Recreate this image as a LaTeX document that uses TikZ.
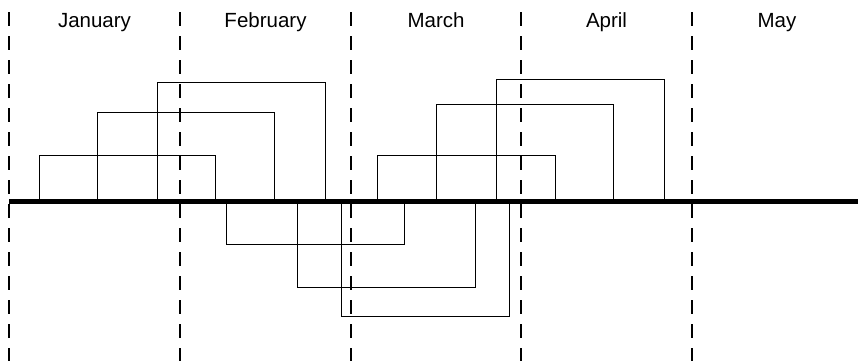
\documentclass[tikz,border=0pt]{standalone}
\usepackage{fontspec}
\setmainfont{Liberation Sans}
\begin{document}
\begin{tikzpicture}[x=1pt,y=-1pt,
  divider/.style={line width=1.4pt,dash pattern=on 14pt off 10pt},
  axisline/.style={line width=5pt},
  bracket/.style={line width=1pt},
  month/.style={font=\fontsize{20.5}{24}\selectfont,inner sep=0pt,anchor=base}]
\useasboundingbox (0,0) rectangle (858,360);
% month dividers
\foreach \x in {9,180,351,521,692}
  \draw[divider] (\x,12) -- (\x,362);
% month labels
\node[month] (jan) at (94.5,27.5) {January};
\node[month] (feb) at (265.5,27.5) {February};
\node[month] (mar) at (436,27.5) {March};
\node[month] (apr) at (606.5,27.5) {April};
\node[month] (may) at (777,27.5) {May};
% upper brackets
\draw[bracket] (39,200) -- (39,155.5) -- (215.5,155.5) -- (215.5,200);
\draw[bracket] (97.5,200) -- (97.5,112.5) -- (274.5,112.5) -- (274.5,200);
\draw[bracket] (157,200) -- (157,82.5) -- (325,82.5) -- (325,200);
\draw[bracket] (377.5,200) -- (377.5,155.5) -- (555,155.5) -- (555,200);
\draw[bracket] (436,200) -- (436,104) -- (613.5,104) -- (613.5,200);
\draw[bracket] (496,200) -- (496,79) -- (664,79) -- (664,200);
% lower brackets
\draw[bracket] (226.5,202) -- (226.5,244.5) -- (404,244.5) -- (404,202);
\draw[bracket] (297.5,202) -- (297.5,287) -- (475,287) -- (475,202);
\draw[bracket] (341,202) -- (341,316.5) -- (509,316.5) -- (509,202);
% time axis
\coordinate (axstart) at (9,201);
\coordinate (axend) at (858,201);
\draw[axisline] (axstart) -- (axend);
\end{tikzpicture}
\end{document}
